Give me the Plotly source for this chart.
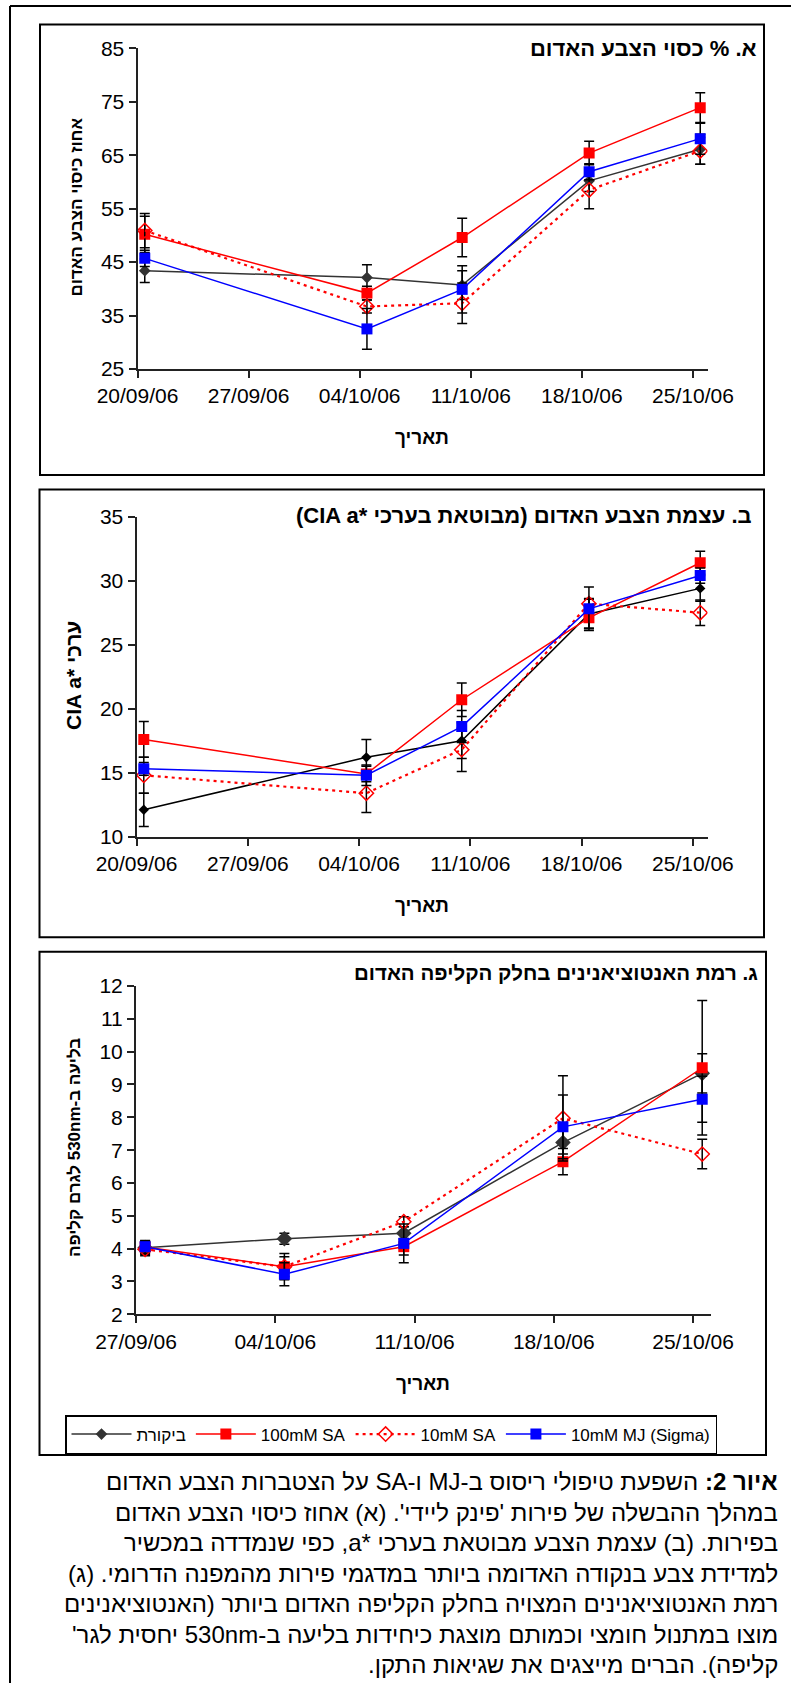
import plotly.graph_objects as go
import pandas as pd

W, H = 791, 1683

# ---------------- data ----------------
series_names = ["ביקורת", "100mM SA", "10mM SA", "10mM MJ (Sigma)"]

dates_ab = ["2006-09-20", "2006-10-04", "2006-10-10", "2006-10-18", "2006-10-25"]
dates_c = ["2006-09-27", "2006-10-04", "2006-10-10", "2006-10-18", "2006-10-25"]

# Panel A: % red colour coverage
a_control = [43.4, 42.1, 40.7, 60.2, 66.1]
a_control_err = [2.2, 2.4, 2.7, 2.0, 2.8]
a_sa100 = [50.2, 39.2, 49.6, 65.4, 73.9]
a_sa100_err = [3.4, 1.3, 3.6, 2.2, 2.8]
a_sa10 = [50.9, 36.7, 37.3, 58.5, 65.8]
a_sa10_err = [3.2, 1.2, 3.8, 3.5, 2.5]
a_mj = [45.7, 32.5, 39.9, 61.9, 68.1]
a_mj_err = [1.5, 3.8, 4.4, 1.5, 2.9]

# Panel B: CIA a* values
b_control = [12.1, 16.2, 17.5, 27.4, 29.4]
b_control_err = [1.3, 1.4, 1.4, 1.15, 1.0]
b_sa100 = [17.6, 14.9, 20.7, 27.1, 31.4]
b_sa100_err = [1.4, 0.6, 1.3, 0.8, 0.9]
b_sa10 = [14.8, 13.4, 16.8, 28.2, 27.5]
b_sa10_err = [1.4, 1.5, 1.7, 0.4, 1.0]
b_mj = [15.3, 14.8, 18.6, 27.8, 30.4]
b_mj_err = [0.5, 0.8, 1.25, 1.7, 0.6]

# Panel C: absorbance at 530nm per g peel
c_control = [4.03, 4.30, 4.47, 7.23, 9.34]
c_control_err = [0.2, 0.17, 0.2, 0.35, 0.6]
c_sa100 = [4.05, 3.45, 4.06, 6.65, 9.51]
c_sa100_err = [0.2, 0.4, 0.25, 0.4, 2.05]
c_sa10 = [3.98, 3.45, 4.82, 7.97, 6.88]
c_sa10_err = [0.2, 0.3, 0.15, 1.3, 0.45]
c_mj = [4.06, 3.22, 4.16, 7.71, 8.55]
c_mj_err = [0.15, 0.35, 0.59, 0.97, 0.7]

# Excel date axis places each day's point inside the day category
DAY_CENTER = pd.Timedelta(hours=11)

FONT = "Arial, Liberation Sans, sans-serif"
RLE, PDF = "\u202B", "\u202C"


def rtl(s):
    return RLE + s + PDF


def fx(px):
    return px / W


def fy(py):
    return 1 - py / H


styles = [
    dict(color="#333333", dash="solid", symbol="diamond", size=9, width=1.5),
    dict(color="#FF0000", dash="solid", symbol="square", size=11, width=1.5),
    dict(color="#FF0000", dash="3px,4px", symbol="diamond-open", size=11, width=2.2),
    dict(color="#0000FF", dash="solid", symbol="square", size=11, width=1.5),
]

panels = [
    dict(dates=dates_ab, vals=[a_control, a_sa100, a_sa10, a_mj],
         errs=[a_control_err, a_sa100_err, a_sa10_err, a_mj_err],
         xr=["2006-09-20", "2006-10-25 22:00"], tick0="2006-09-20",
         yr=[25, 85], dy=10, xd=[137.5, 707.5], yd=[48.3, 369.0],
         ctrl="#333333", dsize=9),
    dict(dates=dates_ab, vals=[b_control, b_sa100, b_sa10, b_mj],
         errs=[b_control_err, b_sa100_err, b_sa10_err, b_mj_err],
         xr=["2006-09-20", "2006-10-25 22:00"], tick0="2006-09-20",
         yr=[10, 35], dy=5, xd=[136.5, 707.5], yd=[516.7, 836.7],
         ctrl="#000000", dsize=8),
    dict(dates=dates_c, vals=[c_control, c_sa100, c_sa10, c_mj],
         errs=[c_control_err, c_sa100_err, c_sa10_err, c_mj_err],
         xr=["2006-09-27", "2006-10-25 21:00"], tick0="2006-09-27",
         yr=[2, 12], dy=1, xd=[136.0, 710.5], yd=[986.0, 1314.3],
         ctrl="#333333", dsize=12),
]

fig = go.Figure()

for pi, p in enumerate(panels):
    xa = "x" if pi == 0 else f"x{pi + 1}"
    ya = "y" if pi == 0 else f"y{pi + 1}"
    xs = pd.to_datetime(p["dates"]) + DAY_CENTER
    for si in range(4):
        st = styles[si]
        col = p["ctrl"] if si == 0 else st["color"]
        msize = p["dsize"] if si == 0 else st["size"]
        fig.add_trace(go.Scatter(
            x=xs, y=p["vals"][si], name=series_names[si],
            xaxis=xa, yaxis=ya, mode="lines+markers",
            line=dict(color=col, width=st["width"], dash=st["dash"]),
            marker=dict(symbol=st["symbol"], size=msize, color=col,
                        line=dict(color=col, width=1.5 if si == 2 else 0)),
            error_y=dict(type="data", array=p["errs"][si], visible=True,
                         color="#000000", thickness=1.5, width=5),
            showlegend=(pi == 0),
        ))
    axis_common = dict(showline=True, linecolor="#222222", linewidth=2,
                       ticks="outside", ticklen=7, tickwidth=2, tickcolor="#222222",
                       showgrid=False, zeroline=False, automargin=False,
                       tickfont=dict(family=FONT, size=21, color="#000000"))
    fig.layout[("xaxis" if pi == 0 else f"xaxis{pi + 1}")] = dict(
        axis_common, type="date", range=p["xr"], tick0=p["tick0"],
        dtick=7 * 86400000, tickformat="%d/%m/%y",
        domain=[fx(p["xd"][0]), fx(p["xd"][1])], anchor=ya)
    fig.layout[("yaxis" if pi == 0 else f"yaxis{pi + 1}")] = dict(
        axis_common, range=p["yr"], dtick=p["dy"], tick0=p["yr"][0],
        domain=[fy(p["yd"][1]), fy(p["yd"][0])], anchor=xa)

# ---------------- frames ----------------
shapes = []
line_k = dict(color="#000000", width=2)
# outer frame (left and top edges visible)
shapes.append(dict(type="line", xref="paper", yref="paper",
                   x0=fx(10), x1=fx(800), y0=fy(6), y1=fy(6), line=line_k))
shapes.append(dict(type="line", xref="paper", yref="paper",
                   x0=fx(10), x1=fx(10), y0=fy(6), y1=fy(1700), line=line_k))
for (l, t, r, b) in [(40, 24.5, 764, 475), (39.5, 489.5, 764, 937.3), (39.5, 951.7, 766, 1455)]:
    shapes.append(dict(type="rect", xref="paper", yref="paper",
                       x0=fx(l), x1=fx(r), y0=fy(b), y1=fy(t),
                       line=line_k, fillcolor="rgba(0,0,0,0)", layer="below"))
fig.update_layout(shapes=shapes)

# ---------------- texts ----------------
ann = []
titles = [
    ("א. % כסוי הצבע האדום", 758.5, 48.8, 22),
    ("ב. עצמת הצבע האדום (מבוטאת בערכי *CIA a)", 754, 515.5, 22),
    ("ג. רמת האנטוציאנינים בחלק הקליפה האדום", 760, 973, 20.5),
]
for txt, x, y, fs in titles:
    ann.append(dict(text="<b>" + rtl(txt) + "</b>", x=fx(x), y=fy(y), xref="paper", yref="paper",
                    xanchor="right", yanchor="middle", showarrow=False,
                    font=dict(family=FONT, size=fs, color="#000000")))

ytitles = [
    ("אחוז כיסוי הצבע האדום", 75.5, 207, 17),
    ("ערכי *CIA a", 73, 676, 21),
    ("בליעה ב-530nm לגרם קליפה", 74, 1148, 17),
]
for txt, x, y, fs in ytitles:
    ann.append(dict(text="<b>" + rtl(txt) + "</b>", x=fx(x), y=fy(y), xref="paper", yref="paper",
                    xanchor="center", yanchor="middle", showarrow=False, textangle=-90,
                    font=dict(family=FONT, size=fs, color="#000000")))

for x, y in [(422, 437), (422, 905), (423, 1383)]:
    ann.append(dict(text="<b>תאריך</b>", x=fx(x), y=fy(y), xref="paper", yref="paper",
                    xanchor="center", yanchor="middle", showarrow=False,
                    font=dict(family=FONT, size=19, color="#000000")))

caption_lines = [
    "<b>איור 2:</b> השפעת טיפולי ריסוס ב-MJ ו-SA על הצטברות הצבע האדום",
    "במהלך ההבשלה של פירות 'פינק ליידי'. (א) אחוז כיסוי הצבע האדום",
    "בפירות. (ב) עצמת הצבע מבוטאת בערכי *a, כפי שנמדדה במכשיר",
    "למדידת צבע בנקודה האדומה ביותר במדגמי פירות מהמפנה הדרומי. (ג)",
    "רמת האנטוציאנינים המצויה בחלק הקליפה האדום ביותר (האנטוציאנינים",
    "מוצו במתנול חומצי וכמותם מוצגת כיחידות בליעה ב-530nm יחסית לגר'",
    "קליפה). הברים מייצגים את שגיאות התקן.",
]
for i, line in enumerate(caption_lines):
    ann.append(dict(text=rtl(line), x=fx(780), y=fy(1481.7 + i * 30.5), xref="paper", yref="paper",
                    xanchor="right", yanchor="middle", showarrow=False,
                    font=dict(family=FONT, size=24, color="#000000")))

fig.update_layout(
    annotations=ann,
    width=W, height=H,
    margin=dict(l=0, r=0, t=0, b=0, pad=0, autoexpand=False),
    paper_bgcolor="white", plot_bgcolor="white",
    legend=dict(orientation="h", x=fx(65), y=fy(1415), xanchor="left", yanchor="top",
                bordercolor="#000000", borderwidth=1.5, bgcolor="white",
                font=dict(family=FONT, size=17, color="#000000"),
                itemwidth=60, traceorder="normal"),
    font=dict(family=FONT, color="#000000"),
)

fig.write_html("out.html", config={"displayModeBar": False},
               post_script="document.body.style.margin='0px';")
